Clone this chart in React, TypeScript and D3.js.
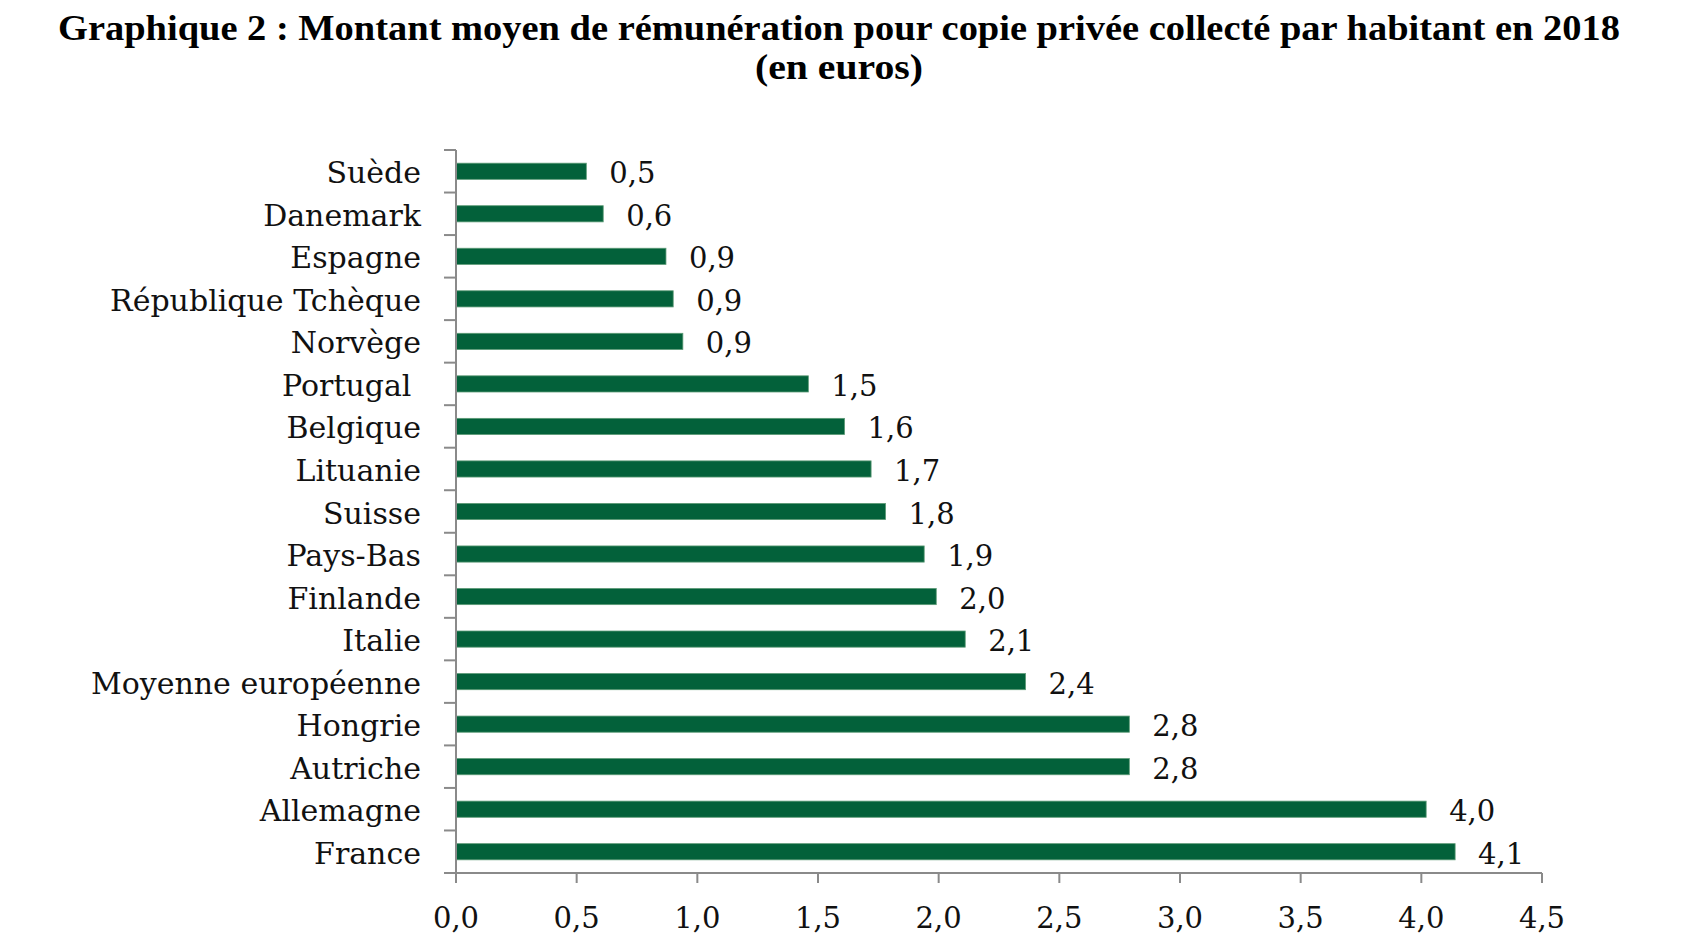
import * as d3 from "d3"
import React from "react"

// categories top -> bottom, values in euros per inhabitant
const countries = [
  "Suède",
  "Danemark",
  "Espagne",
  "République Tchèque",
  "Norvège",
  "Portugal\u00a0",
  "Belgique",
  "Lituanie",
  "Suisse",
  "Pays-Bas",
  "Finlande",
  "Italie",
  "Moyenne européenne",
  "Hongrie",
  "Autriche",
  "Allemagne",
  "France",
]
const amounts = [
  0.54, 0.61, 0.87, 0.9, 0.94, 1.46, 1.61, 1.72, 1.78, 1.94, 1.99, 2.11, 2.36,
  2.79, 2.79, 4.02, 4.14,
]
const xTicks = [0, 0.5, 1, 1.5, 2, 2.5, 3, 3.5, 4, 4.5]

const titleLines = [
  "Graphique 2 : Montant moyen de rémunération pour copie privée collecté par habitant en 2018",
  "(en euros)",
]

const W = 1682,
  H = 946
const barColor = "#03613a"
const axisColor = "#8a8a8a"
const serif = "'DejaVu Serif', serif"
const titleFont = "'Liberation Serif', serif"

const frNum = (v: number) => d3.format(".1f")(v).replace(".", ",")

function App() {
  const x = d3.scaleLinear().domain([0, 4.5]).range([456, 1542])
  const y = d3
    .scaleBand<string>()
    .domain(countries)
    .range([150, 873])
    .paddingInner(0.62)
    .paddingOuter(0.31)
  const step = y.step()
  const x0 = x(0)
  const yBottom = y.range()[1]

  return (
    <svg
      width={W}
      height={H}
      style={{ position: "absolute", left: 0, top: 0, background: "#fff" }}
    >
      {/* title */}
      <text
        x={839}
        y={40}
        textAnchor="middle"
        fontFamily={titleFont}
        fontWeight="bold"
        fontSize={35}
        textLength={1562}
        lengthAdjust="spacingAndGlyphs"
      >
        {titleLines[0]}
      </text>
      <text
        x={839}
        y={79}
        textAnchor="middle"
        fontFamily={titleFont}
        fontWeight="bold"
        fontSize={35}
        textLength={168}
        lengthAdjust="spacingAndGlyphs"
      >
        {titleLines[1]}
      </text>

      {/* bars */}
      {countries.map((c, i) => (
        <rect
          key={c}
          x={x0}
          y={y(c)}
          width={x(amounts[i]) - x0}
          height={y.bandwidth()}
          fill={barColor}
          stroke="#5c9a76"
          strokeWidth={0.8}
        />
      ))}

      {/* value labels */}
      {countries.map((c, i) => (
        <text
          key={c + "-v"}
          x={x(amounts[i]) + 23}
          y={y(c)! + y.bandwidth() / 2 + 12}
          fontFamily={serif}
          fontSize={29}
          fill="#111"
        >
          {frNum(amounts[i])}
        </text>
      ))}

      {/* y axis */}
      <line x1={x0} x2={x0} y1={150} y2={yBottom} stroke={axisColor} strokeWidth={2} />
      {d3.range(countries.length + 1).map((k) => (
        <line
          key={"yt" + k}
          x1={x0 - 12}
          x2={x0}
          y1={150 + k * step}
          y2={150 + k * step}
          stroke={axisColor}
          strokeWidth={2}
        />
      ))}
      {countries.map((c) => (
        <text
          key={c + "-l"}
          x={421}
          y={y(c)! + y.bandwidth() / 2 + 12}
          textAnchor="end"
          fontFamily={serif}
          fontSize={30}
          fill="#111"
        >
          {c}
        </text>
      ))}

      {/* x axis */}
      <line x1={x0} x2={x(4.5)} y1={yBottom} y2={yBottom} stroke={axisColor} strokeWidth={2} />
      {xTicks.map((t) => (
        <g key={"xt" + t}>
          <line
            x1={x(t)}
            x2={x(t)}
            y1={yBottom}
            y2={yBottom + 10}
            stroke={axisColor}
            strokeWidth={2}
          />
          <text
            x={x(t)}
            y={928}
            textAnchor="middle"
            fontFamily={serif}
            fontSize={29}
            fill="#111"
          >
            {frNum(t)}
          </text>
        </g>
      ))}
    </svg>
  )
}

export default App
